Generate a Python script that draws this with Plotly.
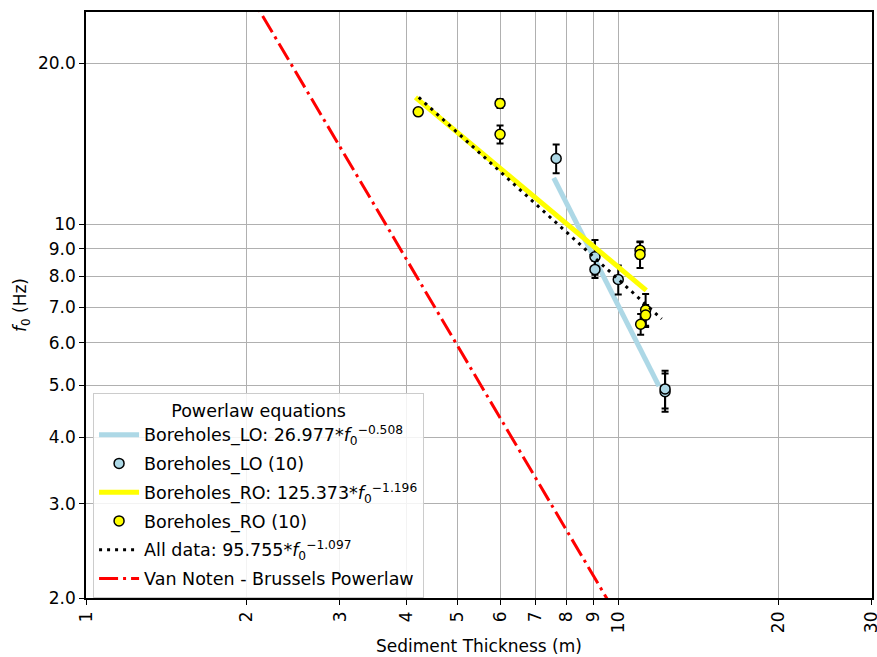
import plotly.graph_objects as go
import numpy as np

# ---- data ----
lo_h = [7.65, 9.05, 9.05, 10.01, 12.26, 12.26]
lo_f = [13.27, 8.69, 8.23, 7.88, 4.86, 4.92]
lo_err = [0.82, 0.65, 0.30, 0.49, 0.40, 0.40]

ro_h = [4.21, 6.00, 6.00, 11.00, 11.00, 11.27, 11.27, 11.03]
ro_f = [16.22, 16.82, 14.72, 8.94, 8.78, 6.91, 6.76, 6.50]
ro_err = [0.0, 0.33, 0.57, 0.31, 0.50, 0.49, 0.30, 0.29]

# fitted power-law lines (end points)
lo_fit_h = [7.57, 11.94]
lo_fit_f = [12.2, 4.98]
ro_fit_h = [4.16, 11.30]
ro_fit_f = [17.26, 7.52]
all_fit_h = [4.22, 12.08]
all_fit_f = [17.26, 6.65]
vn_h = [2.0, 10.0]
vn_f = [27.6, 1.84]

x_ticks = [1, 2, 3, 4, 5, 6, 7, 8, 9, 10, 20, 30]
x_ticktext = ["1", "2", "3", "4", "5", "6", "7", "8", "9", "10", "20", "30"]
y_ticks = [2, 3, 4, 5, 6, 7, 8, 9, 10, 20]
y_ticktext = ["2.0", "3.0", "4.0", "5.0", "6.0", "7.0", "8.0", "9.0", "10", "20.0"]

FONT = "DejaVu Sans"
fig = go.Figure()

fig.add_trace(go.Scatter(
    x=lo_fit_h, y=lo_fit_f, mode="lines", legendgroup="g1",
    line=dict(color="#add8e6", width=5),
    name="Boreholes_LO: 26.977*<i>f</i><sub>0</sub><sup>−0.508</sup>"))
fig.add_trace(go.Scatter(
    x=lo_h, y=lo_f, mode="markers", legendgroup="g2",
    marker=dict(color="#add8e6", size=10, line=dict(color="black", width=1.5)),
    error_y=dict(type="data", array=lo_err, color="black", thickness=2, width=3.5),
    name="Boreholes_LO (10)"))
fig.add_trace(go.Scatter(
    x=ro_fit_h, y=ro_fit_f, mode="lines", legendgroup="g3",
    line=dict(color="#ffff00", width=5),
    name="Boreholes_RO: 125.373*<i>f</i><sub>0</sub><sup>−1.196</sup>"))
fig.add_trace(go.Scatter(
    x=ro_h, y=ro_f, mode="markers", legendgroup="g4",
    marker=dict(color="#ffff00", size=10, line=dict(color="black", width=1.5)),
    error_y=dict(type="data", array=ro_err, color="black", thickness=2, width=3.5),
    name="Boreholes_RO (10)"))
fig.add_trace(go.Scatter(
    x=all_fit_h, y=all_fit_f, mode="lines", legendgroup="g5",
    line=dict(color="black", width=3, dash="3px,5px"),
    name="All data: 95.755*<i>f</i><sub>0</sub><sup>−1.097</sup>"))
fig.add_trace(go.Scatter(
    x=vn_h, y=vn_f, mode="lines", legendgroup="g6",
    line=dict(color="red", width=3, dash="19px,5px,3px,5px"),
    name="Van Noten - Brussels Powerlaw"))

axis_common = dict(
    type="log", showline=True, linecolor="black", linewidth=1.5, mirror=True,
    ticks="outside", ticklen=5, tickcolor="black", tickwidth=1.2,
    showgrid=True, gridcolor="#b0b0b0", gridwidth=1, zeroline=False,
    tickfont=dict(family=FONT, size=17, color="black"),
    automargin=False, ticklabeloverflow="allow",
)

fig.update_xaxes(**axis_common, range=[-0.0005, np.log10(30) + 0.0005],
                 tickvals=x_ticks, ticktext=x_ticktext, tickangle=-90,
                 title=dict(text="Sediment Thickness (m)", font=dict(family=FONT, size=17, color="black"), standoff=8))
fig.update_yaxes(**axis_common, range=[np.log10(2), np.log10(24.93)],
                 tickvals=y_ticks, ticktext=y_ticktext,
                 title=dict(text="<i>f</i><sub>0</sub> (Hz)", font=dict(family=FONT, size=17, color="black"), standoff=7))

fig.update_layout(
    width=877, height=657,
    margin=dict(l=86, r=5, t=12, b=59),
    plot_bgcolor="white", paper_bgcolor="white",
    font=dict(family=FONT, size=17, color="black"),
    legend=dict(
        title=dict(text="Powerlaw equations", side="top center", font=dict(family=FONT, size=17.5)),
        x=0.009, y=0.0, xanchor="left", yanchor="bottom",
        bgcolor="rgba(255,255,255,0.85)", bordercolor="#cccccc", borderwidth=1,
        font=dict(family=FONT, size=17.5), itemwidth=40, tracegroupgap=3,
    ),
)

fig.write_html("out.html")
